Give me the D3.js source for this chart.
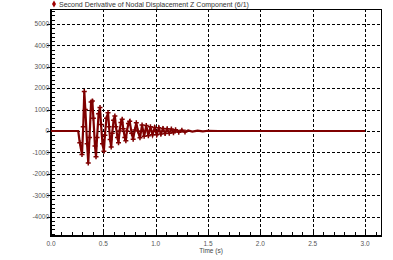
<!DOCTYPE html>
<html>
<head>
<meta charset="utf-8">
<script src="https://cdn.jsdelivr.net/npm/d3@7"></script>
<style>
  body { margin: 0; background: #fff; }
  svg { display: block; font-family: "Liberation Sans", Arial, sans-serif; }
</style>
</head>
<body>
<div id="chart"></div>
<script>
const WIDTH = 393;
const HEIGHT = 260;

const TITLE = "Second Derivative of Nodal Displacement Z Component (6/1)";
const X_LABEL = "Time (s)";
const xTicks = [0, 0.5, 1.0, 1.5, 2.0, 2.5, 3.0];
const yTicks = [-4000, -3000, -2000, -1000, 0, 1000, 2000, 3000, 4000, 5000];

// time (s) and acceleration
const times = [
  0.00, 0.26, 0.275, 0.296, 0.308, 0.318, 0.328, 0.345, 0.356, 0.368,
  0.383, 0.395, 0.405, 0.42, 0.43, 0.44, 0.455, 0.468, 0.478, 0.492,
  0.505, 0.515, 0.53, 0.545, 0.555, 0.565, 0.575, 0.585, 0.598, 0.61,
  0.62, 0.635, 0.645, 0.655, 0.668, 0.68, 0.69, 0.705, 0.715, 0.725,
  0.74, 0.752, 0.77, 0.785, 0.80, 0.815, 0.83, 0.85, 0.87, 0.89,
  0.91, 0.93, 0.95, 0.97, 0.99, 1.01, 1.03, 1.05, 1.07, 1.09,
  1.11, 1.13, 1.15, 1.17, 1.19, 1.22, 1.25, 1.28, 1.31, 1.35,
  1.40, 1.45, 1.50, 1.60, 3.00
];
const accel = [
  0, 0, -550, -1100, 200, 1850, 1000, -600, -1500, -300,
  1350, 1400, 600, -700, -1200, -300, 800, 1100, 300, -600,
  -950, -200, 600, 850, 200, -400, -750, -100, 500, 700,
  200, -300, -550, 0, 400, 550, 100, -300, -450, 0,
  350, 450, -100, -380, 50, 380, 0, -320, 280, -250,
  260, -220, 200, -180, 160, -170, 150, -140, 120, -120,
  100, -100, 90, -80, 60, -60, 40, -50, 30, -30,
  20, -20, 10, 0, 0
];

const COLOR = "#7f0000";

function draw(){
    let svg = d3.select("#chart")
        .append("svg")
        .attr("width",WIDTH)
        .attr("height",HEIGHT);

    let x = d3.scaleLinear().domain([0,3.162]).range([51,382]);
    let y = d3.scaleLinear().domain([-4906,5700]).range([236,9]);

    // grid
    let grid = svg.append("g")
        .attr("stroke","#000")
        .attr("stroke-width",1)
        .attr("stroke-dasharray","3,2");
    grid.selectAll(".hg")
        .data(yTicks)
        .enter()
        .append("line")
        .attr("x1",47).attr("x2",382)
        .attr("y1",d => Math.round(y(d))+0.5)
        .attr("y2",d => Math.round(y(d))+0.5);
    grid.selectAll(".vg")
        .data(xTicks.filter(d => d > 0))
        .enter()
        .append("line")
        .attr("y1",9).attr("y2",236)
        .attr("x1",d => Math.round(x(d))+0.5)
        .attr("x2",d => Math.round(x(d))+0.5);

    // minor ticks, pointing inward
    let yMinor = d3.range(-4800,5701,200);
    let xMinor = d3.range(0,3.16,0.1);
    svg.append("g")
        .selectAll("line")
        .data(yMinor)
        .enter()
        .append("line")
        .attr("x1",51).attr("x2",55)
        .attr("y1",d => Math.round(y(d))+0.5)
        .attr("y2",d => Math.round(y(d))+0.5)
        .attr("stroke","#000");
    svg.append("g")
        .selectAll("line")
        .data(xMinor)
        .enter()
        .append("line")
        .attr("y1",236).attr("y2",232)
        .attr("x1",d => Math.round(x(d))+0.5)
        .attr("x2",d => Math.round(x(d))+0.5)
        .attr("stroke","#000");

    // frame
    svg.append("rect")
        .attr("x",51.5).attr("y",9.5)
        .attr("width",330).attr("height",226.5)
        .attr("fill","none")
        .attr("stroke","#000")
        .attr("stroke-width",1);
    svg.append("line").attr("x1",51).attr("x2",51).attr("y1",9).attr("y2",237)
        .attr("stroke","#000").attr("stroke-width",2);
    svg.append("line").attr("x1",50).attr("x2",382).attr("y1",236).attr("y2",236)
        .attr("stroke","#000").attr("stroke-width",2);

    // tick labels
    svg.append("g")
        .selectAll("text")
        .data(yTicks)
        .enter()
        .append("text")
        .attr("x",49)
        .attr("y",d => y(d)+2.3)
        .attr("text-anchor","end")
        .attr("font-size",6.5)
        .attr("fill","#555")
        .text(d => d);
    svg.append("g")
        .selectAll("text")
        .data(xTicks)
        .enter()
        .append("text")
        .attr("x",d => x(d))
        .attr("y",246)
        .attr("text-anchor","middle")
        .attr("font-size",6.5)
        .attr("fill","#555")
        .text(d => d3.format(".1f")(d));
    svg.append("text")
        .attr("x",211)
        .attr("y",253)
        .attr("text-anchor","middle")
        .attr("font-size",6.5)
        .attr("fill","#444")
        .text(X_LABEL);

    // title with legend diamond
    svg.append("path")
        .attr("d",d3.symbol(d3.symbolDiamond,14)())
        .attr("transform","translate(54,4)")
        .attr("fill","#a00000");
    svg.append("text")
        .attr("x",59)
        .attr("y",6.5)
        .attr("font-size",7)
        .attr("fill","#333")
        .text(TITLE);

    // series
    let pts = times.map((t,i) => [t,accel[i]]);
    let line = d3.line().x(d => x(d[0])).y(d => y(d[1]));
    svg.append("path")
        .datum(pts)
        .attr("d",line)
        .attr("fill","none")
        .attr("stroke",COLOR)
        .attr("stroke-width",2.2)
        .attr("stroke-linejoin","miter");

    svg.append("g")
        .selectAll("path")
        .data(pts.filter(d => d[0] > 0.27 && d[0] < 1.3))
        .enter()
        .append("path")
        .attr("d","M-2.5,0H2.5M0,-2.5V2.5")
        .attr("transform",d => `translate(${x(d[0])},${y(d[1])})`)
        .attr("stroke",COLOR)
        .attr("stroke-width",1.5)
        .attr("fill","none");
}

window.addEventListener("load",draw);
</script>
</body>
</html>
